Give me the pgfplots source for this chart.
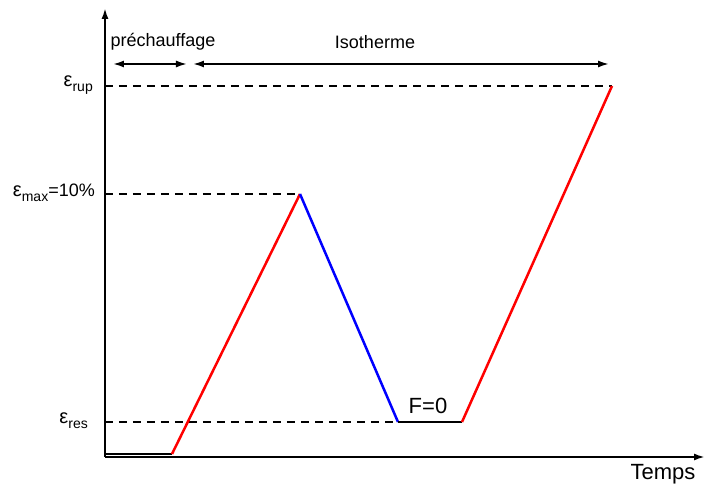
\documentclass[border=0pt]{standalone}
\usepackage{fontspec}
\setmainfont{Liberation Sans}
\usepackage{pgfplots}
\pgfplotsset{compat=1.18}
\usetikzlibrary{arrows.meta}

\newcommand{\eps}[1]{\fontsize{20}{20}\selectfont ε\raisebox{-0.45ex}{\fontsize{14}{14}\selectfont #1}}

\begin{document}
\begin{tikzpicture}
  \begin{axis}[
    scale only axis,
    width=600pt, height=449pt,
    xmin=0, xmax=600,
    ymin=0, ymax=449,
    axis lines=left,
    axis line style={line width=2pt, -{Latex[length=11pt,width=7pt]}},
    xtick=\empty, ytick=\empty,
    clip=false,
]

  % dashed guides
  \addplot[black, line width=1.5pt, dash pattern=on 8pt off 6pt] coordinates {(0,371)(507,371)};
  \addplot[black, line width=1.5pt, dash pattern=on 8pt off 6pt] coordinates {(0,263)(195,263)};
  \addplot[black, line width=1.5pt, dash pattern=on 8pt off 6pt] coordinates {(0,35)(293,35)};

  % loading path
  \addplot[black, line width=2.5pt] coordinates {(0,3)(67,3)};
  \addplot[red, line width=2.5pt] coordinates {(67,3)(195,263)};
  \addplot[blue, line width=2.5pt] coordinates {(195,263)(293,35)};
  \addplot[black, line width=2.5pt] coordinates {(293,35)(357,35)};
  \addplot[red, line width=2.5pt] coordinates {(357,35)(507,371)};

  % phase arrows
  \addplot[black, line width=1.8pt, {Latex[length=11pt,width=7pt]}-{Latex[length=11pt,width=7pt]}]
    coordinates {(8,393)(82,393)};
  \addplot[black, line width=1.8pt, {Latex[length=11pt,width=7pt]}-{Latex[length=11pt,width=7pt]}]
    coordinates {(88,393)(504,393)};

  \node[font=\fontsize{18}{18}\selectfont] at (axis cs:58,415) {préchauffage};
  \node[font=\fontsize{18}{18}\selectfont] at (axis cs:270,415) {Isotherme};
  \node[font=\fontsize{22}{22}\selectfont] at (axis cs:323,51) {F=0};
  \node[font=\fontsize{22}{22}\selectfont] at (axis cs:558,-17) {Temps};

  \node[anchor=east, inner sep=0pt] at (axis cs:-12,372) {\eps{rup}};
  \node[anchor=east, inner sep=0pt] at (axis cs:-10,264) {\eps{max}\fontsize{18}{18}\selectfont=10\%};
  \node[anchor=east, inner sep=0pt] at (axis cs:-17,36) {\eps{res}};

  % page frame
  \draw[draw=none] (axis cs:-105,-29) rectangle (axis cs:602,457);
  \end{axis}
\end{tikzpicture}
\end{document}
